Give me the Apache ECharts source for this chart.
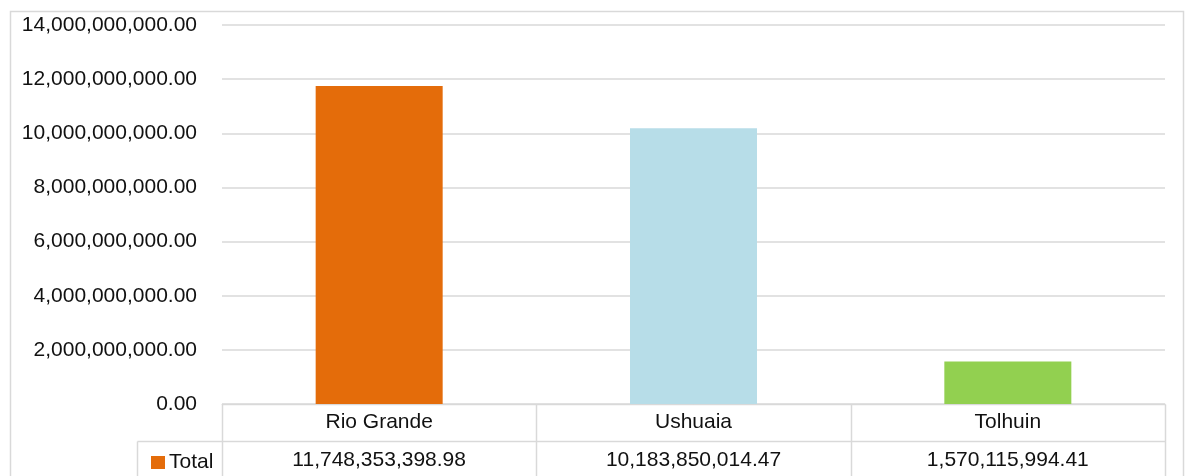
<!DOCTYPE html>
<html>
<head>
<meta charset="utf-8">
<script src="https://cdn.jsdelivr.net/npm/echarts@6/dist/echarts.min.js"></script>
<style>
html,body{margin:0;padding:0;background:#fff;}
#c{width:1189px;height:476px;}
</style>
</head>
<body>
<div id="c"></div>
<script>
const categories = ['Rio Grande', 'Ushuaia', 'Tolhuin'];
const totals = [11748353398.98, 10183850014.47, 1570115994.41];
const barColors = ['#E46C0A', '#B7DDE8', '#92D050'];
const seriesName = 'Total';
const yMin = 0, yMax = 14000000000, yInterval = 2000000000;

const FONT = 'Liberation Sans';
const FS = 21;
const TXT = '#111';
const LINE = '#d9d9d9';

function fmt(v) {
  return Number(v).toLocaleString('en-US', {minimumFractionDigits: 2, maximumFractionDigits: 2});
}

const chart = echarts.init(document.getElementById('c'), null, {renderer: 'canvas'});
const option = {
  animation: false,
  backgroundColor: '#fff',
  grid: {left: 222, right: 24, top: 25, bottom: 72, containLabel: false},
  legend: {
    show: true, left: 146, top: 447, icon: 'rect', itemWidth: 14, itemHeight: 13, itemGap: 6,
    textStyle: {fontFamily: FONT, fontSize: FS, color: TXT, padding: [0, 0, 0, -1]},
    data: [seriesName], selectedMode: false
  },
  xAxis: [{
    type: 'category', data: categories, position: 'bottom',
    axisLine: {show: true, lineStyle: {color: LINE, width: 1}},
    axisTick: {show: false},
    axisLabel: {margin: 18, verticalAlign: 'middle', fontFamily: FONT, fontSize: FS, color: TXT, interval: 0},
    splitLine: {show: false}
  }, {
    type: 'category', data: totals.map(fmt), position: 'bottom', offset: 38,
    axisLine: {show: false}, axisTick: {show: false},
    axisLabel: {margin: 18, verticalAlign: 'middle', fontFamily: FONT, fontSize: FS, color: TXT, interval: 0}
  }],
  yAxis: {
    type: 'value', min: yMin, max: yMax, interval: yInterval,
    axisLine: {show: false}, axisTick: {show: false},
    axisLabel: {margin: 25, fontFamily: FONT, fontSize: FS, color: TXT, formatter: v => fmt(v)},
    splitLine: {lineStyle: {color: LINE, width: 1.5}}
  },
  series: [{
    name: seriesName, type: 'bar', barWidth: 127,
    itemStyle: {color: barColors[0]},
    data: totals.map((v, i) => ({value: v, itemStyle: {color: barColors[i]}}))
  }]
};
chart.setOption(option);

// table borders from axis scale
const c0 = chart.convertToPixel({xAxisIndex: 0}, 0);
const c1 = chart.convertToPixel({xAxisIndex: 0}, 1);
const band = c1 - c0;
const yTop = chart.convertToPixel({yAxisIndex: 0}, yMin);
const rowH = 37;
const xs = [];
for (let i = 0; i <= categories.length; i++) xs.push(Math.round(c0 - band / 2 + i * band) + 0.5);
const g = [];
const ls = {stroke: LINE, lineWidth: 1.5};
const yT = Math.round(yTop) + 0.5;
const yR = Math.round(yTop + rowH) + 0.5;
xs.forEach(x => g.push({type: 'line', shape: {x1: x, y1: yT, x2: x, y2: 480}, style: ls, silent: true}));
g.push({type: 'line', shape: {x1: xs[0], y1: yT, x2: xs[xs.length - 1], y2: yT}, style: ls, silent: true});
g.push({type: 'line', shape: {x1: 137.5, y1: yR, x2: xs[xs.length - 1], y2: yR}, style: ls, silent: true});
g.push({type: 'line', shape: {x1: 137.5, y1: yR, x2: 137.5, y2: 480}, style: ls, silent: true});
g.push({type: 'rect', shape: {x: 10.5, y: 11.5, width: 1173, height: 520}, style: {fill: null, stroke: LINE, lineWidth: 1.5}, silent: true});
chart.setOption({graphic: g});
</script>
</body>
</html>
